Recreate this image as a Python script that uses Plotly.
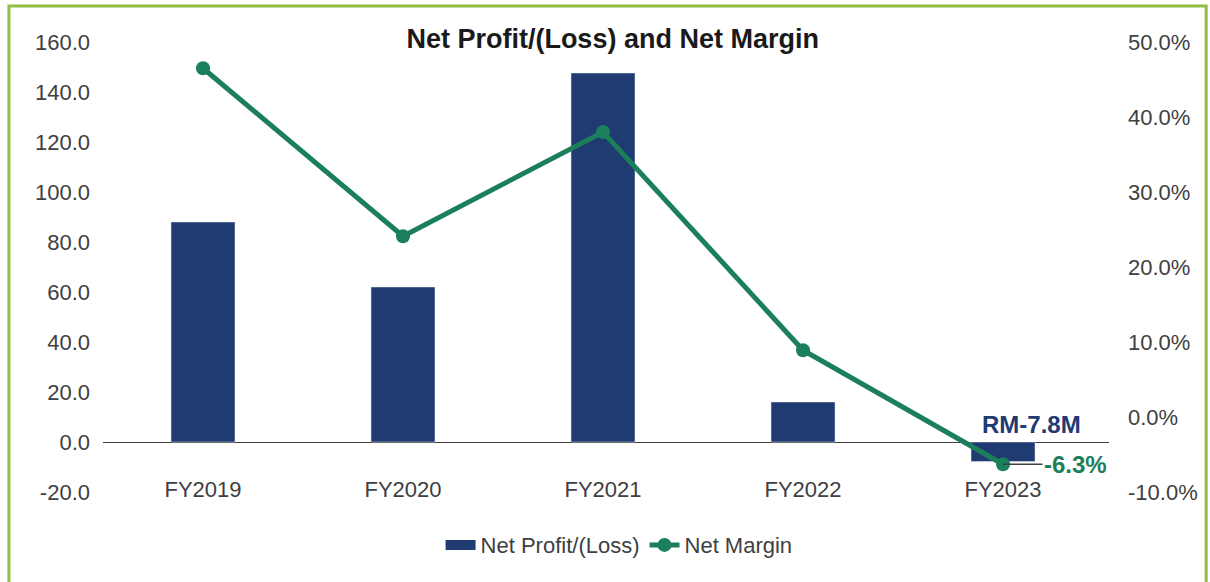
import plotly.graph_objects as go

years = ["FY2019", "FY2020", "FY2021", "FY2022", "FY2023"]
net_profit = [88.0, 62.0, 147.6, 16.0, -7.8]      # RM million
net_margin = [46.5, 24.1, 38.0, 8.9, -6.3]        # percent

left_ticks = [-20, 0, 20, 40, 60, 80, 100, 120, 140, 160]
left_tick_text = ["-20.0", "0.0", "20.0", "40.0", "60.0", "80.0", "100.0", "120.0", "140.0", "160.0"]
right_ticks = [-10, 0, 10, 20, 30, 40, 50]
right_tick_text = ["-10.0%", "0.0%", "10.0%", "20.0%", "30.0%", "40.0%", "50.0%"]

navy = "#203A72"
green = "#1A7F5A"
grey = "#404040"
font_family = "Liberation Sans, Arial, sans-serif"

W = 1218          # page width as captured
K = W / 1210.0    # horizontal compensation

fig = go.Figure()
fig.add_trace(go.Bar(
    x=years, y=net_profit, name="Net Profit/(Loss)",
    marker=dict(color=navy), width=0.32, yaxis="y", showlegend=False,
))
# legend proxy giving a wide rectangular swatch for the bars
fig.add_trace(go.Scatter(
    x=[None], y=[None], name="Net Profit/(Loss)", mode="lines",
    line=dict(color=navy, width=14), yaxis="y", showlegend=True,
))
fig.add_trace(go.Scatter(
    x=years, y=net_margin, name="Net Margin", mode="lines+markers",
    line=dict(color=green, width=5), marker=dict(color=green, size=14),
    yaxis="y2",
))

fig.add_annotation(
    x=years[-1], y=0, xref="x", yref="y",
    text="<b>RM%.1fM</b>" % net_profit[-1], showarrow=False,
    xanchor="center", yanchor="bottom", xshift=28 * K, yshift=2,
    font=dict(family=font_family, size=24, color=navy),
)
fig.add_annotation(
    x=years[-1], y=net_margin[-1], xref="x", yref="y2",
    text="<b>%.1f%%</b>" % net_margin[-1], showarrow=True,
    arrowhead=0, arrowwidth=1.5, arrowcolor=grey, ax=72 * K, ay=0,
    font=dict(family=font_family, size=24, color=green),
)

fig.add_shape(
    type="rect", xref="paper", yref="paper",
    x0=-0.0935, x1=1.0966, y0=-0.35, y1=1.08,
    line=dict(color="#8DC044", width=3), fillcolor="rgba(0,0,0,0)", layer="below",
)

fig.update_layout(
    width=W, height=582,
    margin=dict(l=102 * K, r=108 * K, t=42, b=90, autoexpand=False),
    paper_bgcolor="white", plot_bgcolor="white",
    font=dict(family=font_family, size=22, color=grey),
    title=dict(
        text="<b>Net Profit/(Loss) and Net Margin</b>",
        x=0.503, xanchor="center", y=1 - 39 / 582, yanchor="middle",
        font=dict(family=font_family, size=27, color="#1a1a1a"),
    ),
    showlegend=True,
    legend=dict(
        orientation="h", x=0.513, xanchor="center", y=-0.118, yanchor="middle",
        font=dict(family=font_family, size=22, color=grey),
        traceorder="normal",
    ),
    xaxis=dict(
        type="category", anchor="free", position=0.04, automargin=False,
        showline=False, showgrid=False, ticks="", zeroline=False,
        tickfont=dict(size=22, color=grey),
    ),
    yaxis=dict(
        range=[-20, 160], tickvals=left_ticks, ticktext=left_tick_text,
        showgrid=False, showline=False, ticks="", automargin=False,
        zeroline=True, zerolinecolor=grey, zerolinewidth=1,
        tickfont=dict(size=22, color=grey), ticklabelstandoff=12,
    ),
    yaxis2=dict(
        range=[-10, 50], tickvals=right_ticks, ticktext=right_tick_text,
        overlaying="y", side="right", automargin=False,
        showgrid=False, showline=False, ticks="", zeroline=False,
        tickfont=dict(size=22, color=grey), ticklabelstandoff=18,
    ),
    bargap=0.68,
)

fig.write_html(
    "out.html",
    config={"displayModeBar": False},
    post_script=(
        "document.body.style.margin='0';"
        "document.body.style.overflow='hidden';"
        "document.documentElement.style.overflow='hidden';"
    ),
)
